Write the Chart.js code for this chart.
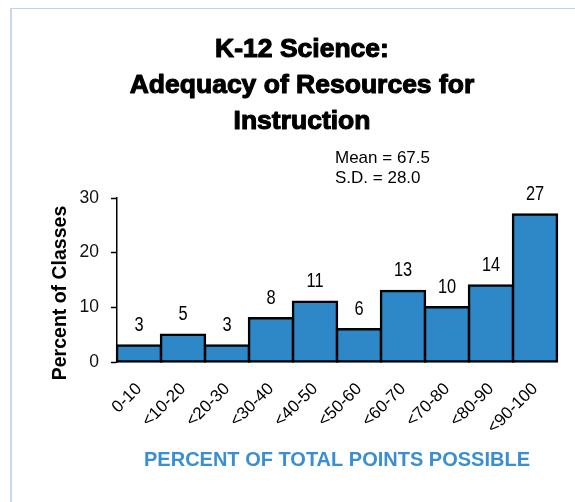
<!DOCTYPE html>
<html>
<head>
<meta charset="utf-8">
<script src="https://cdn.jsdelivr.net/npm/chart.js@4/dist/chart.umd.min.js"></script>
<style>
  html, body { margin: 0; padding: 0; background: #fff; }
  #wrap { position: relative; width: 575px; height: 502px; overflow: hidden; }
  #frame { position: absolute; left: 10px; top: 8px; right: -4px; bottom: -4px;
           border-left: 2px solid #c9d6f2; border-top: 1.5px solid #c3d2f0; pointer-events: none; }
  canvas { position: absolute; left: 0; top: 0; }
</style>
</head>
<body>
<div id="wrap">
  <canvas id="chart" width="575" height="502"></canvas>
  <div id="frame"></div>
</div>
<script>
// Score bands (percent of total points possible)
const categories = ['0-10', '<10-20', '<20-30', '<30-40', '<40-50', '<50-60', '<60-70', '<70-80', '<80-90', '<90-100'];
// Percent of classes in each band
const percentOfClasses = [3, 5, 3, 8, 11, 6, 13, 10, 14, 27];
// Y axis tick values
const yTicks = [0, 10, 20, 30];

const titleLines = ['K-12 Science:', 'Adequacy of Resources for', 'Instruction'];
const statsLines = ['Mean = 67.5', 'S.D. = 28.0'];
const yTitle = 'Percent of Classes';
const xTitle = 'PERCENT OF TOTAL POINTS POSSIBLE';

const SANS = "'Liberation Sans', Arial, Helvetica, sans-serif";

// Heading, statistics box, rotated y title and value labels above the bars
const decorations = {
  id: 'decorations',
  afterDatasetsDraw(chart) {
    const ctx = chart.ctx;
    ctx.save();
    ctx.fillStyle = '#000';

    // Heading (heavy weight: fill plus a thin outline)
    ctx.font = 'bold 26.5px ' + SANS;
    ctx.textAlign = 'center';
    ctx.textBaseline = 'alphabetic';
    ctx.lineWidth = 1.1;
    ctx.lineJoin = 'round';
    ctx.strokeStyle = '#000';
    const baselines = [57, 93, 129];
    titleLines.forEach((t, i) => {
      ctx.fillText(t, 302, baselines[i]);
      ctx.strokeText(t, 302, baselines[i]);
    });

    // Summary statistics
    ctx.font = '17px ' + SANS;
    ctx.textAlign = 'left';
    statsLines.forEach((t, i) => ctx.fillText(t, 335, 163 + i * 20));

    // Y axis title
    ctx.save();
    ctx.translate(66, 293);
    ctx.rotate(-Math.PI / 2);
    ctx.font = 'bold 19.5px ' + SANS;
    ctx.textAlign = 'center';
    ctx.fillText(yTitle, 0, 0);
    ctx.restore();

    // Value labels, in a condensed face
    const meta = chart.getDatasetMeta(0);
    ctx.font = '20.5px ' + SANS;
    ctx.textAlign = 'center';
    meta.data.forEach((bar, i) => {
      ctx.save();
      ctx.translate(bar.x, bar.y - 14.5);
      ctx.scale(0.8, 1);
      ctx.fillText(String(percentOfClasses[i]), 0, 0);
      ctx.restore();
    });
    ctx.restore();
  }
};

new Chart(document.getElementById('chart'), {
  type: 'bar',
  data: {
    labels: categories,
    datasets: [{
      data: percentOfClasses,
      backgroundColor: '#2e88c8',
      borderColor: '#000',
      borderWidth: 2.5,
      borderSkipped: false,
      inflateAmount: 1.25,
      barPercentage: 1,
      categoryPercentage: 1,
      clip: false
    }]
  },
  options: {
    responsive: false,
    animation: false,
    devicePixelRatio: 1,
    layout: { padding: { top: 198, right: 18, bottom: 0, left: 0 } },
    plugins: {
      legend: { display: false },
      title: { display: false },
      tooltip: { enabled: false }
    },
    scales: {
      x: {
        afterFit(scale) { scale.height = 140; },
        grid: { display: false },
        border: { display: false },
        ticks: {
          autoSkip: false,
          minRotation: 45,
          maxRotation: 45,
          padding: 9,
          color: '#000',
          font: { family: SANS, size: 17 }
        },
        title: {
          display: true,
          text: xTitle,
          color: '#3a8fd2',
          font: { family: SANS, size: 20, weight: 'bold', lineHeight: 1.2 },
          padding: { top: 0, bottom: 30 }
        }
      },
      y: {
        min: 0,
        max: 30,
        afterFit(scale) { scale.width = 117; },
        afterBuildTicks(scale) { scale.ticks = yTicks.map(v => ({ value: v })); },
        grid: { drawOnChartArea: false, tickLength: 6, color: '#000', tickWidth: 1.5 },
        border: { display: true, color: '#000', width: 1.5 },
        ticks: {
          padding: 12,
          color: '#111',
          font: { family: SANS, size: 17.5 }
        }
      }
    }
  },
  plugins: [decorations]
});
</script>
</body>
</html>
